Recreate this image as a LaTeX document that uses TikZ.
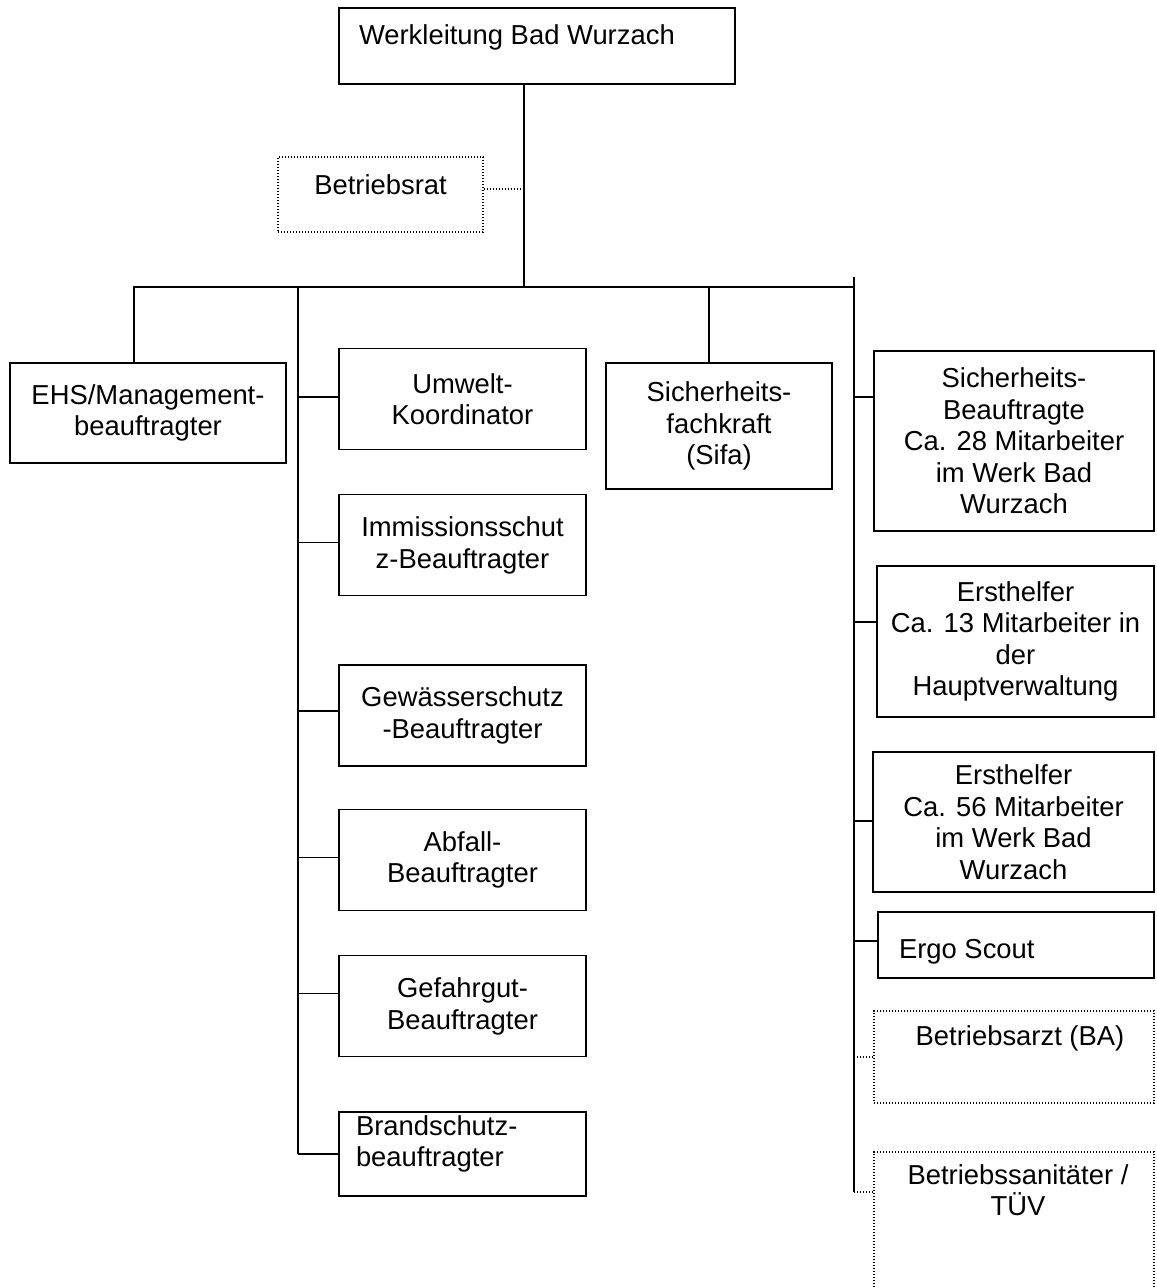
\documentclass[tikz,border=0pt]{standalone}
\usepackage{fontspec}
\setmainfont{Liberation Sans}
\usetikzlibrary{positioning}

\begin{document}
\begin{tikzpicture}[x=0.5pt,y=-0.5pt,line width=0.65pt,
  font=\fontsize{13.7}{15.75}\selectfont,
  box/.style={draw, rectangle, inner sep=0pt, align=center},
  dotline/.style={dash pattern=on 0.6pt off 0.9pt},
  dbox/.style={box, dotline},
  lbox/.style={box, minimum width=123.5pt, minimum height=50.5pt},
  txt/.style={inner sep=0pt, align=center}]

  \useasboundingbox (0,0) rectangle (1156,1288);
  \clip (0,0) rectangle (1156,1288);

  % top
  \node[box, minimum width=198pt, minimum height=38pt] (wl) at (537,46) {};
  \node[txt, anchor=west] (wlt) at ([xshift=10pt,yshift=-15pt]wl.north west) {Werkleitung Bad Wurzach};
  \node[dbox, minimum width=102.5pt, minimum height=37.5pt] (br) at (380.5,194.5) {};
  \node[txt] (brt) at ([yshift=5pt]br.center) {Betriebsrat};

  % left
  \node[box, minimum width=138pt, minimum height=50pt] (ehs) at (148,413) {EHS/Management-\\beauftragter};
  \node[lbox] (umw) at (462.5,399) {Umwelt-\\Koordinator};
  \node[lbox, below=22pt of umw] (imm) {Immissionsschut\\z-Beauftragter};
  \node[lbox, below=34pt of imm] (gew) {Gewässerschutz\\-Beauftragter};
  \node[lbox, below=21pt of gew] (abf) {Abfall-\\Beauftragter};
  \node[lbox, below=22pt of abf] (gef) {Gefahrgut-\\Beauftragter};
  \node[lbox, minimum height=42pt, below=27pt of gef] (bra) {};
  \node[txt, anchor=west, align=left] (brat) at ([xshift=8.5pt,yshift=5pt]bra.west) {Brandschutz-\\beauftragter};

  % middle
  \node[box, minimum width=113pt, minimum height=63pt] (sifa) at (719,426) {Sicherheits-\\fachkraft\\(Sifa)};

  % right
  \node[box, minimum width=140pt, minimum height=90pt] (sb) at (1014,441) {Sicherheits-\\Beauftragte\\Ca. 28 Mitarbeiter\\im Werk Bad\\Wurzach};
  \node[box, minimum width=138.5pt, minimum height=75.5pt] (eh1) at (1015.5,641.5) {Ersthelfer\\Ca. 13 Mitarbeiter in\\der\\Hauptverwaltung};
  \node[box, minimum width=140.5pt, minimum height=70pt] (eh2) at (1013.5,822) {Ersthelfer\\Ca. 56 Mitarbeiter\\im Werk Bad\\Wurzach};
  \node[box, minimum width=138pt, minimum height=33pt] (ergo) at (1016,945) {};
  \node[txt, anchor=west] (ergot) at ([xshift=10.5pt,yshift=-3.5pt]ergo.west) {Ergo Scout};
  \node[dbox, minimum width=140pt, minimum height=46pt] (ba) at (1014,1057) {};
  \node[txt] (bat) at ([xshift=3pt,yshift=-14pt]ba.north) {Betriebsarzt (BA)};
  \node[dbox, minimum width=140pt, minimum height=94pt] (bs) at (1014,1246) {};
  \node[txt] (bst) at ([xshift=2pt,yshift=-19.5pt]bs.north) {Betriebssanitäter /\\TÜV};

  % lines
  \coordinate (top) at (524,287);
  \coordinate (ltop) at (298,287);
  \coordinate (rtop) at (854,277);
  \coordinate (ehsin) at ([xshift=-7pt]ehs.north);
  \coordinate (sifain) at ([xshift=-5pt]sifa.north);
  \coordinate (brin) at ([yshift=2.75pt]br.east);
  \coordinate (bsin) at ([yshift=27pt]bs.west);

  \draw (top |- wl.south) -- (top);
  \draw[dotline] (brin) -- (brin -| top);
  \draw (ehsin) |- (top -| rtop);
  \draw (sifain) -- (sifain |- top);

  \draw (ltop) -- (ltop |- bra.west);
  \foreach \n/\s in {umw/1pt, imm/1.25pt, gew/2.25pt, abf/1.25pt, gef/6.25pt, bra/0pt}{
    \coordinate (in) at ([yshift=\s]\n.west);
    \draw (in) -- (in -| ltop);
  }

  \draw (rtop) -- (rtop |- bsin);
  \foreach \n/\s in {sb/22pt, eh1/9.75pt, eh2/0.5pt, ergo/2pt}{
    \coordinate (in) at ([yshift=\s]\n.west);
    \draw (in) -- (in -| rtop);
  }
  \draw[dotline] (ba.west) -- (ba.west -| rtop);
  \draw[dotline] (bsin) -- (bsin -| rtop);
\end{tikzpicture}
\end{document}
